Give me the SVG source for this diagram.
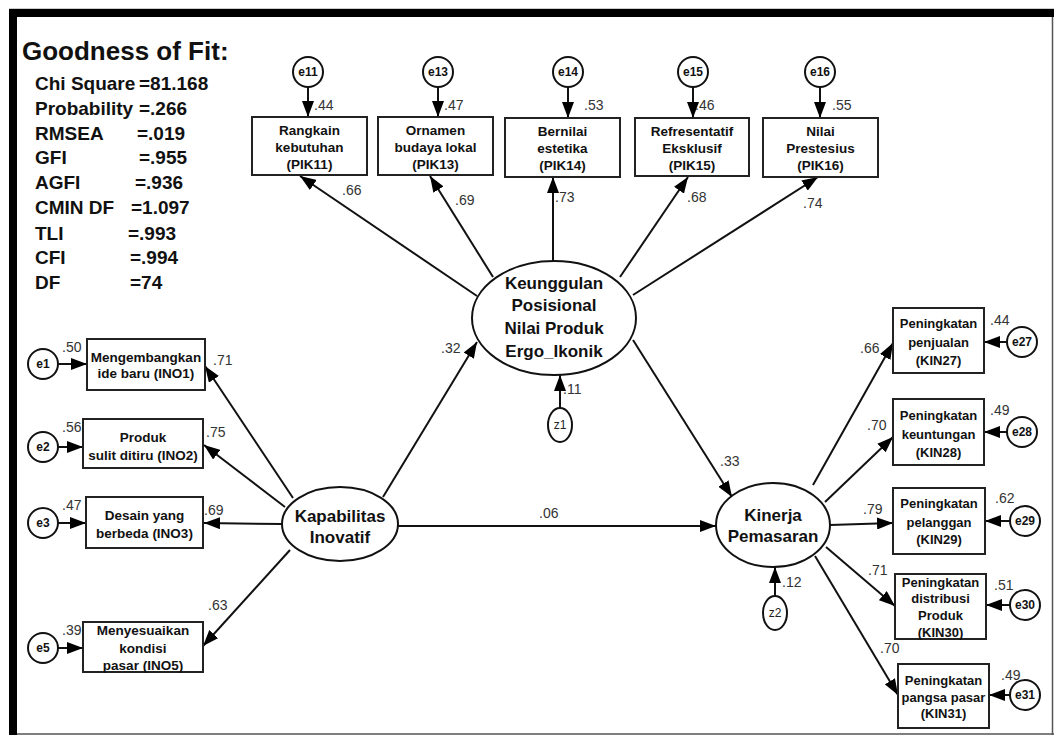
<svg xmlns="http://www.w3.org/2000/svg" width="1054" height="735" viewBox="0 0 1054 735">
<defs>
<marker id="ah" markerUnits="userSpaceOnUse" markerWidth="16" markerHeight="12" viewBox="0 0 16 12" refX="16" refY="6" orient="auto">
<path d="M0,0 L16,6 L0,12 z" fill="#000"/>
</marker>
</defs>
<style>
.bx{fill:#fff;stroke:#222;stroke-width:2}
.el{fill:#fff;stroke:#111;stroke-width:2}
.er{fill:#fff;stroke:#111;stroke-width:2}
.t{font-family:"Liberation Sans",Arial,sans-serif;font-weight:bold;font-size:13.5px;fill:#111;text-anchor:middle;dominant-baseline:central}
.tr{font-family:"Liberation Sans",Arial,sans-serif;font-weight:bold;font-size:13px;fill:#111;text-anchor:middle;dominant-baseline:central}
.lt{font-family:"Liberation Sans",Arial,sans-serif;font-weight:bold;font-size:17px;fill:#111;text-anchor:middle;dominant-baseline:central}
.et{font-family:"Liberation Sans",Arial,sans-serif;font-weight:bold;font-size:12px;fill:#111;text-anchor:middle;dominant-baseline:central}
.zt{font-family:"Liberation Sans",Arial,sans-serif;font-size:12px;fill:#222;text-anchor:middle;dominant-baseline:central}
.n{font-family:"Liberation Sans",Arial,sans-serif;font-size:14px;fill:#333;dominant-baseline:central}
.st{font-family:"Liberation Sans",Arial,sans-serif;font-weight:bold;font-size:19px;fill:#111;dominant-baseline:central}
.c{stroke:#111;stroke-width:2;fill:none;marker-end:url(#ah)}
</style>
<rect x="0" y="0" width="1054" height="735" fill="#fff"/>
<g id="frame">
<line x1="9" y1="9" x2="1054" y2="9" stroke="#999" stroke-width="1"/>
<rect x="9" y="9" width="1045" height="8" fill="#000"/>
<rect x="9" y="9" width="8" height="726" fill="#000"/>
<line x1="1052.5" y1="17" x2="1052.5" y2="735" stroke="#555" stroke-width="1.5"/>
<line x1="17" y1="734" x2="1054" y2="734" stroke="#555" stroke-width="1.5"/>
</g>
<g id="fit">
<text x="22" y="51" class="st" style="font-size:26px">Goodness of Fit:</text>
<text x="35" y="83" class="st">Chi Square</text><text x="139" y="83" class="st">=81.168</text>
<text x="35" y="108" class="st">Probability</text><text x="139" y="108" class="st">=.266</text>
<text x="35" y="133" class="st">RMSEA</text><text x="137" y="133" class="st">=.019</text>
<text x="35" y="157" class="st">GFI</text><text x="139" y="157" class="st">=.955</text>
<text x="35" y="182" class="st">AGFI</text><text x="135" y="182" class="st">=.936</text>
<text x="35" y="207" class="st">CMIN DF</text><text x="131" y="207" class="st">=1.097</text>
<text x="35" y="233" class="st">TLI</text><text x="128" y="233" class="st">=.993</text>
<text x="35" y="257" class="st">CFI</text><text x="130" y="257" class="st">=.994</text>
<text x="35" y="282" class="st">DF</text><text x="130" y="282" class="st">=74</text>
</g>
<g id="connectors">
<line class="c" x1="477" y1="296" x2="300" y2="176"/>
<line class="c" x1="493" y1="277" x2="430" y2="176"/>
<line class="c" x1="553" y1="261" x2="553" y2="177"/>
<line class="c" x1="620" y1="277" x2="688" y2="177"/>
<line class="c" x1="633" y1="295" x2="818" y2="177"/>
<line class="c" x1="308" y1="87" x2="308" y2="117"/>
<line class="c" x1="438" y1="87" x2="438" y2="117"/>
<line class="c" x1="568" y1="87" x2="568" y2="118"/>
<line class="c" x1="693" y1="87" x2="693" y2="118"/>
<line class="c" x1="820" y1="87" x2="820" y2="118"/>
<line class="c" x1="293" y1="498" x2="205" y2="366"/>
<line class="c" x1="285" y1="507" x2="204" y2="445"/>
<line class="c" x1="282" y1="524" x2="204" y2="523"/>
<line class="c" x1="290" y1="550" x2="203" y2="646"/>
<line class="c" x1="58" y1="364" x2="87" y2="364"/>
<line class="c" x1="58" y1="447" x2="83" y2="447"/>
<line class="c" x1="58" y1="523" x2="86" y2="523"/>
<line class="c" x1="58" y1="648" x2="83" y2="648"/>
<line class="c" x1="383" y1="497" x2="477" y2="342"/>
<line class="c" x1="398" y1="526" x2="716" y2="526"/>
<line class="c" x1="633" y1="340" x2="732" y2="497"/>
<line class="c" x1="560" y1="408" x2="560" y2="375"/>
<line class="c" x1="775" y1="596" x2="775" y2="567"/>
<line class="c" x1="813" y1="485" x2="893" y2="343"/>
<line class="c" x1="825" y1="502" x2="893" y2="437"/>
<line class="c" x1="830" y1="525" x2="893" y2="523"/>
<line class="c" x1="826" y1="547" x2="895" y2="606"/>
<line class="c" x1="815" y1="556" x2="898" y2="695"/>
<line class="c" x1="1007" y1="342" x2="984" y2="342"/>
<line class="c" x1="1007" y1="432" x2="984" y2="432"/>
<line class="c" x1="1010" y1="521" x2="985" y2="521"/>
<line class="c" x1="1010" y1="605" x2="986" y2="605"/>
<line class="c" x1="1010" y1="695" x2="989" y2="695"/>
<text class="n" x="342" y="190">.66</text>
<text class="n" x="455" y="200">.69</text>
<text class="n" x="555" y="197">.73</text>
<text class="n" x="687" y="197">.68</text>
<text class="n" x="803" y="203">.74</text>
<text class="n" x="314" y="105">.44</text>
<text class="n" x="444" y="105">.47</text>
<text class="n" x="584" y="105">.53</text>
<text class="n" x="695" y="105">.46</text>
<text class="n" x="832" y="105">.55</text>
<text class="n" x="62" y="347">.50</text>
<text class="n" x="62" y="427">.56</text>
<text class="n" x="62" y="505">.47</text>
<text class="n" x="62" y="630">.39</text>
<text class="n" x="213" y="360">.71</text>
<text class="n" x="206" y="432">.75</text>
<text class="n" x="204" y="510">.69</text>
<text class="n" x="208" y="605">.63</text>
<text class="n" x="441" y="348">.32</text>
<text class="n" x="539" y="513">.06</text>
<text class="n" x="720" y="461">.33</text>
<text class="n" x="563" y="389">.11</text>
<text class="n" x="782" y="582">.12</text>
<text class="n" x="860" y="348">.66</text>
<text class="n" x="867" y="425">.70</text>
<text class="n" x="863" y="509">.79</text>
<text class="n" x="868" y="570">.71</text>
<text class="n" x="880" y="648">.70</text>
<text class="n" x="990" y="320">.44</text>
<text class="n" x="990" y="410">.49</text>
<text class="n" x="995" y="498">.62</text>
<text class="n" x="994" y="585">.51</text>
<text class="n" x="1001" y="675">.49</text>
</g>
<g id="PIK11"><rect class="bx" x="252" y="117" width="115" height="58"/><text class="t" x="309.5" y="130">Rangkain</text><text class="t" x="309.5" y="147">kebutuhan</text><text class="t" x="309.5" y="164">(PIK11)</text></g>
<g id="PIK13"><rect class="bx" x="378" y="117" width="115" height="58"/><text class="t" x="435.5" y="130">Ornamen</text><text class="t" x="435.5" y="147">budaya lokal</text><text class="t" x="435.5" y="164">(PIK13)</text></g>
<g id="PIK14"><rect class="bx" x="505" y="118" width="115" height="59"/><text class="t" x="562.5" y="131">Bernilai</text><text class="t" x="562.5" y="148">estetika</text><text class="t" x="562.5" y="165">(PIK14)</text></g>
<g id="PIK15"><rect class="bx" x="635" y="118" width="114" height="58"/><text class="t" x="692" y="131">Refresentatif</text><text class="t" x="692" y="148">Eksklusif</text><text class="t" x="692" y="165">(PIK15)</text></g>
<g id="PIK16"><rect class="bx" x="763" y="118" width="115" height="59"/><text class="t" x="820.5" y="131">Nilai</text><text class="t" x="820.5" y="148">Prestesius</text><text class="t" x="820.5" y="165">(PIK16)</text></g>
<g id="e11"><circle class="er" cx="308" cy="72" r="15"/><text class="et" x="308" y="72">e11</text></g>
<g id="e13"><circle class="er" cx="438" cy="72" r="15"/><text class="et" x="438" y="72">e13</text></g>
<g id="e14"><circle class="er" cx="568" cy="72" r="15"/><text class="et" x="568" y="72">e14</text></g>
<g id="e15"><circle class="er" cx="693" cy="72" r="15"/><text class="et" x="693" y="72">e15</text></g>
<g id="e16"><circle class="er" cx="820" cy="72" r="15"/><text class="et" x="820" y="72">e16</text></g>
<g id="INO1"><rect class="bx" x="87" y="339" width="118" height="51"/><text class="t" x="146" y="357">Mengembangkan</text><text class="t" x="146" y="373">ide baru (INO1)</text></g>
<g id="INO2"><rect class="bx" x="83" y="419" width="120" height="49"/><text class="t" x="143" y="437">Produk</text><text class="t" x="143" y="455">sulit ditiru (INO2)</text></g>
<g id="INO3"><rect class="bx" x="86" y="497" width="117" height="51"/><text class="t" x="144.5" y="515">Desain yang</text><text class="t" x="144.5" y="533">berbeda (INO3)</text></g>
<g id="INO5"><rect class="bx" x="83" y="622" width="120" height="50"/><text class="t" x="143" y="630">Menyesuaikan</text><text class="t" x="143" y="648">kondisi</text><text class="t" x="143" y="665">pasar (INO5)</text></g>
<g id="e1"><circle class="er" cx="43" cy="364" r="15"/><text class="et" x="43" y="364">e1</text></g>
<g id="e2"><circle class="er" cx="43" cy="447" r="15"/><text class="et" x="43" y="447">e2</text></g>
<g id="e3"><circle class="er" cx="43" cy="523" r="15"/><text class="et" x="43" y="523">e3</text></g>
<g id="e5"><circle class="er" cx="43" cy="648" r="15"/><text class="et" x="43" y="648">e5</text></g>
<g id="Keunggulan"><ellipse class="el" cx="554" cy="318" rx="82" ry="57"/><text class="lt" x="554" y="283">Keunggulan</text><text class="lt" x="554" y="305">Posisional</text><text class="lt" x="554" y="328">Nilai Produk</text><text class="lt" x="554" y="351">Ergo_Ikonik</text></g>
<g id="z1"><ellipse class="er" cx="560" cy="425" rx="12" ry="17"/><text class="zt" x="560" y="425">z1</text></g>
<g id="Kapabilitas"><ellipse class="el" cx="340" cy="524" rx="58" ry="37"/><text class="lt" x="340" y="516">Kapabilitas</text><text class="lt" x="340" y="537">Inovatif</text></g>
<g id="Kinerja"><ellipse class="el" cx="773" cy="525" rx="57" ry="42"/><text class="lt" x="773" y="515">Kinerja</text><text class="lt" x="773" y="536">Pemasaran</text></g>
<g id="z2"><ellipse class="er" cx="775" cy="613" rx="12" ry="17"/><text class="zt" x="775" y="613">z2</text></g>
<g id="KIN27"><rect class="bx" x="893" y="308" width="91" height="65"/><text class="tr" x="938.5" y="323">Peningkatan</text><text class="tr" x="938.5" y="342">penjualan</text><text class="tr" x="938.5" y="360">(KIN27)</text></g>
<g id="KIN28"><rect class="bx" x="893" y="399" width="91" height="66"/><text class="tr" x="938.5" y="415">Peningkatan</text><text class="tr" x="938.5" y="434">keuntungan</text><text class="tr" x="938.5" y="452">(KIN28)</text></g>
<g id="KIN29"><rect class="bx" x="893" y="488" width="92" height="66"/><text class="tr" x="939" y="503">Peningkatan</text><text class="tr" x="939" y="522">pelanggan</text><text class="tr" x="939" y="539">(KIN29)</text></g>
<g id="KIN30"><rect class="bx" x="895" y="574" width="91" height="65"/><text class="tr" x="940.5" y="582">Peningkatan</text><text class="tr" x="940.5" y="598">distribusi</text><text class="tr" x="940.5" y="615">Produk</text><text class="tr" x="940.5" y="632">(KIN30)</text></g>
<g id="KIN31"><rect class="bx" x="898" y="664" width="91" height="64"/><text class="tr" x="943.5" y="680">Peningkatan</text><text class="tr" x="943.5" y="697">pangsa pasar</text><text class="tr" x="943.5" y="713">(KIN31)</text></g>
<g id="e27"><circle class="er" cx="1022" cy="342" r="15"/><text class="et" x="1022" y="342">e27</text></g>
<g id="e28"><circle class="er" cx="1022" cy="432" r="15"/><text class="et" x="1022" y="432">e28</text></g>
<g id="e29"><circle class="er" cx="1025" cy="521" r="15"/><text class="et" x="1025" y="521">e29</text></g>
<g id="e30"><circle class="er" cx="1025" cy="605" r="15"/><text class="et" x="1025" y="605">e30</text></g>
<g id="e31"><circle class="er" cx="1025" cy="695" r="15"/><text class="et" x="1025" y="695">e31</text></g>
</svg>
